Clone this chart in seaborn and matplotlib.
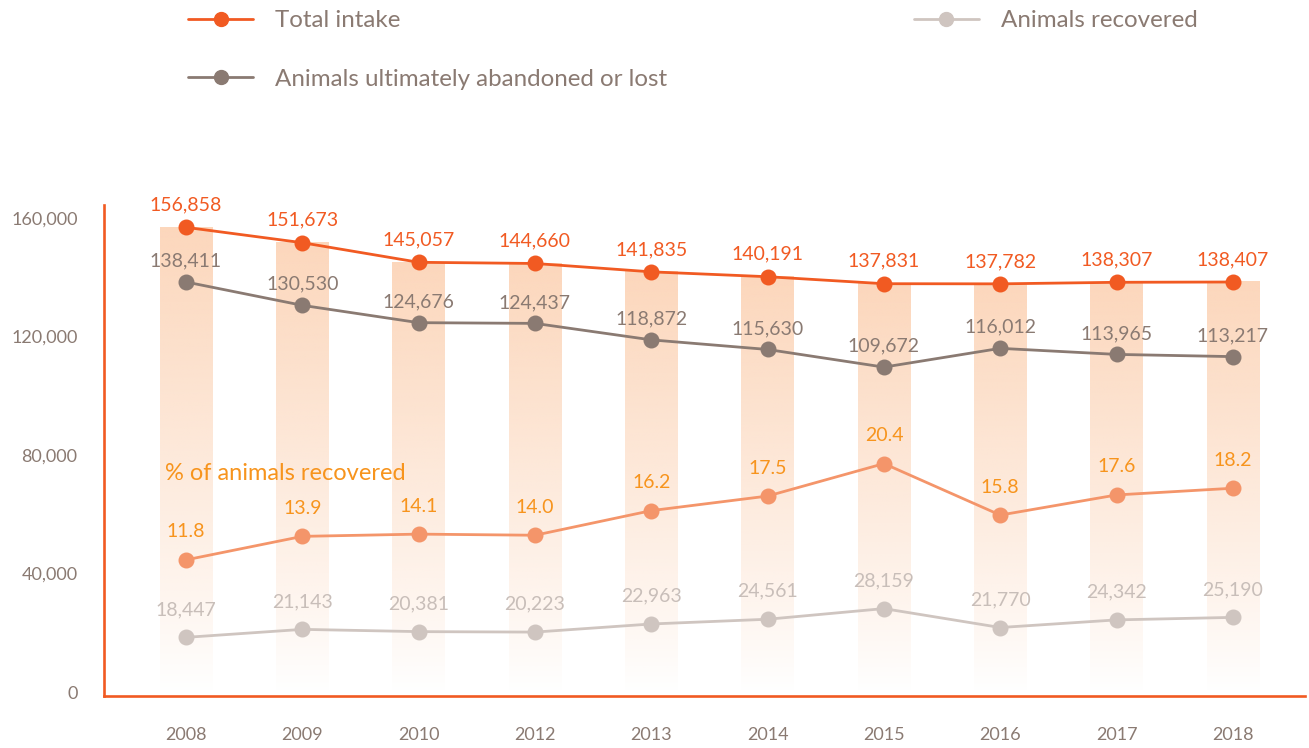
import numpy as np
import pandas as pd
import matplotlib
matplotlib.use("Agg")
import matplotlib.pyplot as plt
import seaborn as sns
from matplotlib.lines import Line2D
from matplotlib.colors import to_rgb

# dados
years = ["2008", "2009", "2010", "2012", "2013", "2014", "2015", "2016", "2017", "2018"]
total_intake = [156858, 151673, 145057, 144660, 141835, 140191, 137831, 137782, 138307, 138407]
abandoned = [138411, 130530, 124676, 124437, 118872, 115630, 109672, 116012, 113965, 113217]
recovered = [18447, 21143, 20381, 20223, 22963, 24561, 28159, 21770, 24342, 25190]
pct_recovered = [11.8, 13.9, 14.1, 14.0, 16.2, 17.5, 20.4, 15.8, 17.6, 18.2]
y_ticks = [0, 40000, 80000, 120000, 160000]

ORANGE = "#F15A22"
BROWN = "#8A7A72"
LIGHT = "#CFC5C0"
LIGHT_TXT = "#C8BEB9"
PCT_LINE = "#F4956A"
PCT_TXT = "#F7941D"
BAR_TOP = "#FCD7BC"

sns.set_style("white")
plt.rcParams["font.family"] = ["Lato", "DejaVu Sans"]

df = pd.DataFrame({"year": years, "total": total_intake, "abandoned": abandoned,
                   "recovered": recovered, "pct": pct_recovered})

fig = plt.figure(figsize=(13.09, 7.48), dpi=100)
ax = fig.add_axes([104 / 1309, 52 / 748, 1201 / 1309, 491 / 748])

# barras com degrade
sns.barplot(data=df, x="year", y="total", order=years, width=0.45,
            color="white", alpha=0, ax=ax, zorder=1)
rgb = to_rgb(BAR_TOP)
grad = np.zeros((256, 1, 4))
grad[..., 0], grad[..., 1], grad[..., 2] = rgb
grad[:, 0, 3] = np.linspace(0, 1, 256) ** 0.9
for p in ax.patches:
    x0, w, h = p.get_x(), p.get_width(), p.get_height()
    ax.imshow(grad, extent=[x0, x0 + w, 0, h], aspect="auto",
              origin="lower", zorder=1, interpolation="bilinear")

# linhas
sns.pointplot(data=df, x="year", y="total", order=years, color=ORANGE,
              markers="o", markersize=10, linewidth=2, ax=ax, zorder=4)
sns.pointplot(data=df, x="year", y="abandoned", order=years, color=BROWN,
              markers="o", markersize=10, linewidth=2, ax=ax, zorder=4)
sns.pointplot(data=df, x="year", y="recovered", order=years, color=LIGHT,
              markers="o", markersize=10, linewidth=2, ax=ax, zorder=4)

ax.set_xlim(-0.705, 9.62)
ax.set_ylim(-1350, 164400)

ax2 = ax.twinx()
sns.pointplot(data=df, x="year", y="pct", order=years, color=PCT_LINE,
              markers="o", markersize=10, linewidth=2, ax=ax2, zorder=4)
ax2.set_ylim(-0.36, 43.5)
ax2.set_xlim(-0.705, 9.62)
ax2.axis("off")

# rotulos de valores
lab = dict(ha="center", va="bottom", fontsize=14, textcoords="offset points")
for i in range(len(years)):
    ax.annotate(f"{total_intake[i]:,}", (i, ax.patches[i].get_height()),
                xytext=(0, 10), color=ORANGE, **lab)
    ax.annotate(f"{abandoned[i]:,}", (i, abandoned[i]), xytext=(0, 9),
                color=BROWN, **lab)
    ax.annotate(f"{recovered[i]:,}", (i, recovered[i]), xytext=(0, 14),
                color=LIGHT_TXT, **lab)
    ax2.annotate(f"{pct_recovered[i]:.1f}", (i, pct_recovered[i]), xytext=(0, 14),
                 color=PCT_TXT, **lab)

ax.text(-0.18, 73600, "% of animals recovered", color=PCT_TXT, fontsize=17,
        va="center", ha="left")

# eixos
ax.set_yticks(y_ticks)
ax.set_yticklabels([f"{v:,}" for v in y_ticks])
ax.set_xlabel("")
ax.set_ylabel("")
ax.tick_params(axis="both", length=0, labelsize=13, labelcolor=BROWN)
ax.tick_params(axis="y", pad=19)
ax.tick_params(axis="x", pad=22)
for s in ["top", "right"]:
    ax.spines[s].set_visible(False)
for s in ["left", "bottom"]:
    ax.spines[s].set_color(ORANGE)
    ax.spines[s].set_linewidth(1.9)

# legenda
handles = [
    Line2D([], [], color=ORANGE, marker="o", markersize=10, linewidth=2),
    Line2D([], [], color=BROWN, marker="o", markersize=10, linewidth=2),
    Line2D([], [], color=LIGHT, marker="o", markersize=10, linewidth=2),
]
labels = ["Total intake", "Animals ultimately abandoned or lost", "Animals recovered"]
leg = fig.legend(handles, labels, ncol=2, loc="upper left",
                 bbox_to_anchor=(188 / 1309, 1 - 10 / 748), frameon=False,
                 fontsize=17.4, handlelength=2.7, handletextpad=0.9,
                 labelspacing=1.57, columnspacing=10.2, borderpad=0,
                 borderaxespad=0)
for t in leg.get_texts():
    t.set_color(BROWN)

fig.savefig("out.png", dpi=100)
